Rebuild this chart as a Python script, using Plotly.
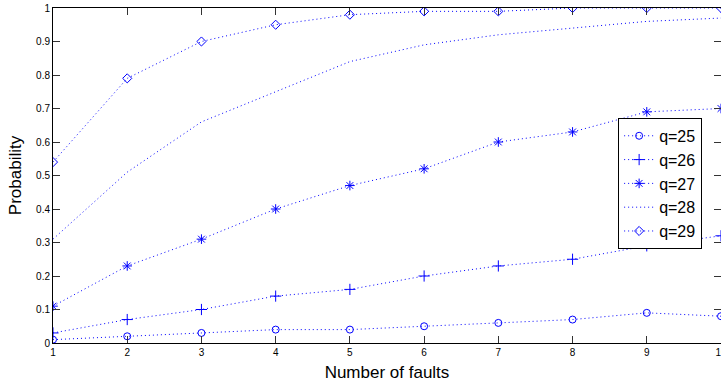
import plotly.graph_objects as go

faults = [1, 2, 3, 4, 5, 6, 7, 8, 9, 10]
q25 = [0.01, 0.02, 0.03, 0.04, 0.04, 0.05, 0.06, 0.07, 0.09, 0.08]
q26 = [0.03, 0.07, 0.10, 0.14, 0.16, 0.20, 0.23, 0.25, 0.29, 0.32]
q27 = [0.11, 0.23, 0.31, 0.40, 0.47, 0.52, 0.60, 0.63, 0.69, 0.70]
q28 = [0.31, 0.51, 0.66, 0.75, 0.84, 0.89, 0.92, 0.94, 0.96, 0.97]
q29 = [0.54, 0.79, 0.90, 0.95, 0.98, 0.99, 0.99, 1.00, 1.00, 1.00]
y_ticks = [0, 0.1, 0.2, 0.3, 0.4, 0.5, 0.6, 0.7, 0.8, 0.9, 1]
y_tick_labels = ["0", "0.1", "0.2", "0.3", "0.4", "0.5", "0.6", "0.7", "0.8", "0.9", "1"]

series = [
    ("q=25", q25, "circle-open", 7),
    ("q=26", q26, "cross-thin-open", 8),
    ("q=27", q27, "asterisk-open", 8),
    ("q=28", q28, None, 0),
    ("q=29", q29, "diamond-open", 7),
]

BLUE = "rgb(0,0,255)"
fig = go.Figure()
for name, vals, sym, size in series:
    kw = dict(x=faults, y=vals, name=name,
              line=dict(color=BLUE, width=1, dash="1px,3px"))
    if sym is None:
        kw["mode"] = "lines"
    else:
        kw["mode"] = "lines+markers"
        kw["marker"] = dict(symbol=sym, size=size, color=BLUE,
                            line=dict(color=BLUE, width=1))
    fig.add_trace(go.Scatter(**kw))

axis_common = dict(showline=True, linecolor="black", linewidth=1, mirror="ticks",
                   ticks="inside", ticklen=7, tickcolor="#333", tickwidth=1,
                   showgrid=False, zeroline=False, automargin=False,
                   ticklabeloverflow="allow",
                   tickfont=dict(family="Liberation Sans, Arial", size=10, color="black"))

fig.update_layout(
    width=721, height=385,
    margin=dict(l=53, r=0, t=8, b=42),
    paper_bgcolor="white", plot_bgcolor="white",
    font=dict(family="Liberation Sans, Arial", color="black"),
    showlegend=True,
    legend=dict(x=0.846, y=0.672, xanchor="left", yanchor="top",
                bgcolor="white", bordercolor="black", borderwidth=1,
                font=dict(size=16, color="black"), tracegroupgap=0),
    xaxis=dict(range=[1, 10], tickvals=faults, title=dict(text="Number of faults",
               font=dict(size=17), standoff=9), **axis_common),
    yaxis=dict(range=[0, 1], tickvals=y_ticks, ticktext=y_tick_labels,
               title=dict(text="Probability", font=dict(size=17), standoff=10), **axis_common),
)

# remove the browser's default 8px body margin so the figure fills the window
fig.write_html("out.html", config={"displayModeBar": False},
               post_script="document.body.style.margin='0';document.body.style.overflow='hidden';")
